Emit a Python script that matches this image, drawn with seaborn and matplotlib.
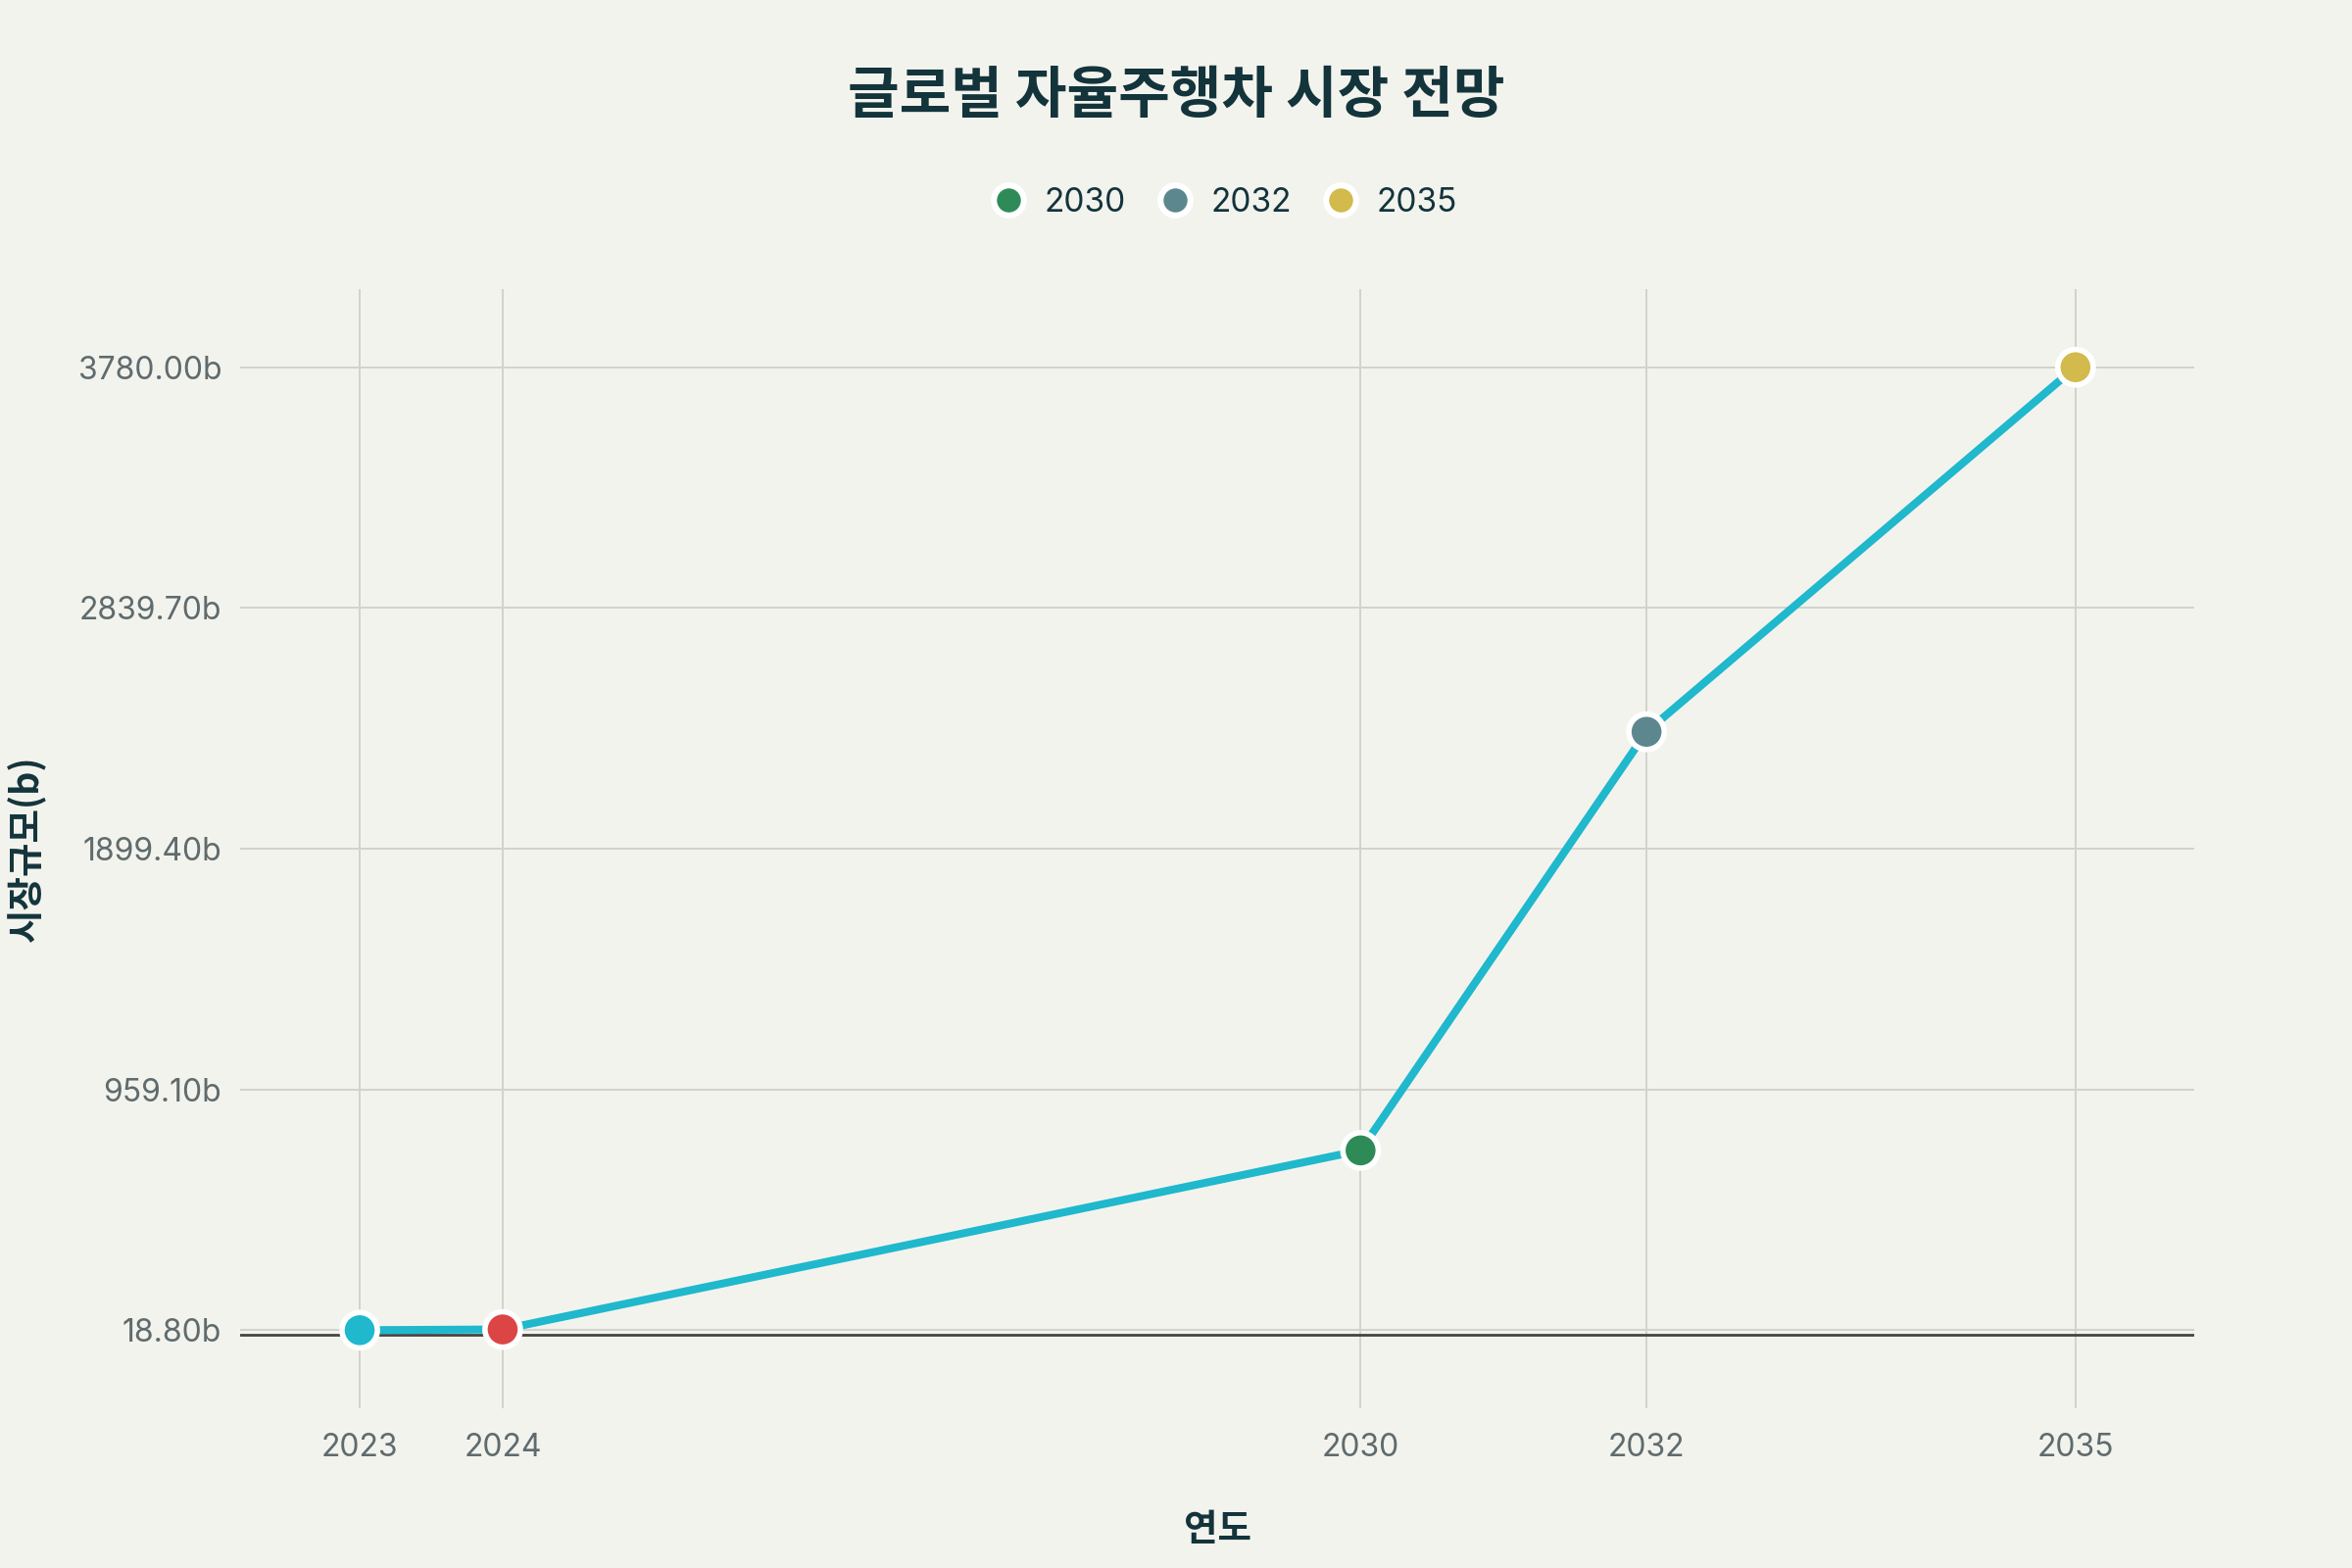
import numpy as np
import pandas as pd
import seaborn as sns
import matplotlib
matplotlib.use("Agg")
import matplotlib.pyplot as plt
from matplotlib.lines import Line2D

# ---- data ----
years = [2023, 2024, 2030, 2032, 2035]
market_size = [18.8, 21.7, 721.0, 2356.0, 3780.0]
point_colors = ['#1FB8CD', '#DB4545', '#2E8B57', '#5D878F', '#D2BA4C']
legend_years = [2030, 2032, 2035]
y_ticks = [18.8, 959.1, 1899.4, 2839.7, 3780.0]
y_tick_labels = ['18.80b', '959.10b', '1899.40b', '2839.70b', '3780.00b']
x_tick_labels = ['2023', '2024', '2030', '2032', '2035']
title = '글로벌 자율주행차 시장 전망'
x_label = '연도'
y_label = '시장규모(b)'

# ---- style ----
BG = '#F3F3EE'
DARK = '#13343B'
TICK = '#5F6B6D'
GRID = '#D3D3CE'
LINE = '#1FB8CD'

sns.set_theme(style='white')
plt.rcParams['font.family'] = ['Inter', 'Noto Sans CJK KR', 'DejaVu Sans']
KR = ['Noto Sans CJK KR', 'DejaVu Sans']

df = pd.DataFrame({'year': years, 'size': market_size,
                   'label': [str(y) for y in years]})
palette = dict(zip(df['label'], point_colors))

fig = plt.figure(figsize=(12, 8), dpi=200, facecolor=BG)
ax = fig.add_axes([0.1021, 0.1019, 0.8308, 0.7137])
ax.set_facecolor(BG)

sns.lineplot(data=df, x='year', y='size', color=LINE, lw=2.9, ax=ax,
             zorder=3, legend=False)
sns.scatterplot(data=df, x='year', y='size', hue='label', palette=palette,
                s=169, edgecolor='white', linewidth=2.0, ax=ax, zorder=4,
                legend=False)

ax.set_xlim(2022.164, 2035.83)
ax.set_ylim(-286, 4085)
ax.set_xticks(years)
ax.set_xticklabels(x_tick_labels)
ax.set_yticks(y_ticks)
ax.set_yticklabels(y_tick_labels)

ax.grid(True, color=GRID, lw=0.7)
ax.set_axisbelow(True)
ax.axhline(0, color='#444444', lw=1.0, zorder=2)
for s in ax.spines.values():
    s.set_visible(False)

ax.tick_params(axis='x', length=5, width=0.7, color=GRID, pad=4,
               labelsize=11.5, labelcolor=TICK)
ax.tick_params(axis='y', length=4.3, width=0.7, color=GRID, pad=2.5,
               labelsize=11.5, labelcolor=TICK)

ax.set_xlabel(x_label, family=KR, fontsize=13.5, fontweight='bold', color=DARK)
ax.xaxis.set_label_coords(0.5, -0.108)
ax.xaxis.label.set_verticalalignment('center')
ax.set_ylabel(y_label, family=KR, fontsize=13.5, fontweight='bold', color=DARK)
ax.yaxis.set_label_coords(-0.109, 0.5)
ax.yaxis.label.set_verticalalignment('center')

fig.suptitle(title, family=KR, fontsize=20.6, fontweight='bold', color=DARK,
             x=0.5, y=0.939, va='center')

handles = [Line2D([0], [0], marker='o', linestyle='none', markersize=11,
                  markerfacecolor=palette[str(y)], markeredgecolor='white',
                  markeredgewidth=2.2, label=str(y)) for y in legend_years]
leg = ax.legend(handles=handles, loc='center', bbox_to_anchor=(0.5039, 1.077),
                ncol=3, frameon=False, fontsize=12, handlelength=1.0,
                handletextpad=0.6, columnspacing=1.0, borderaxespad=0)
for t in leg.get_texts():
    t.set_color(DARK)

fig.savefig('out.png', dpi=200, facecolor=BG)
